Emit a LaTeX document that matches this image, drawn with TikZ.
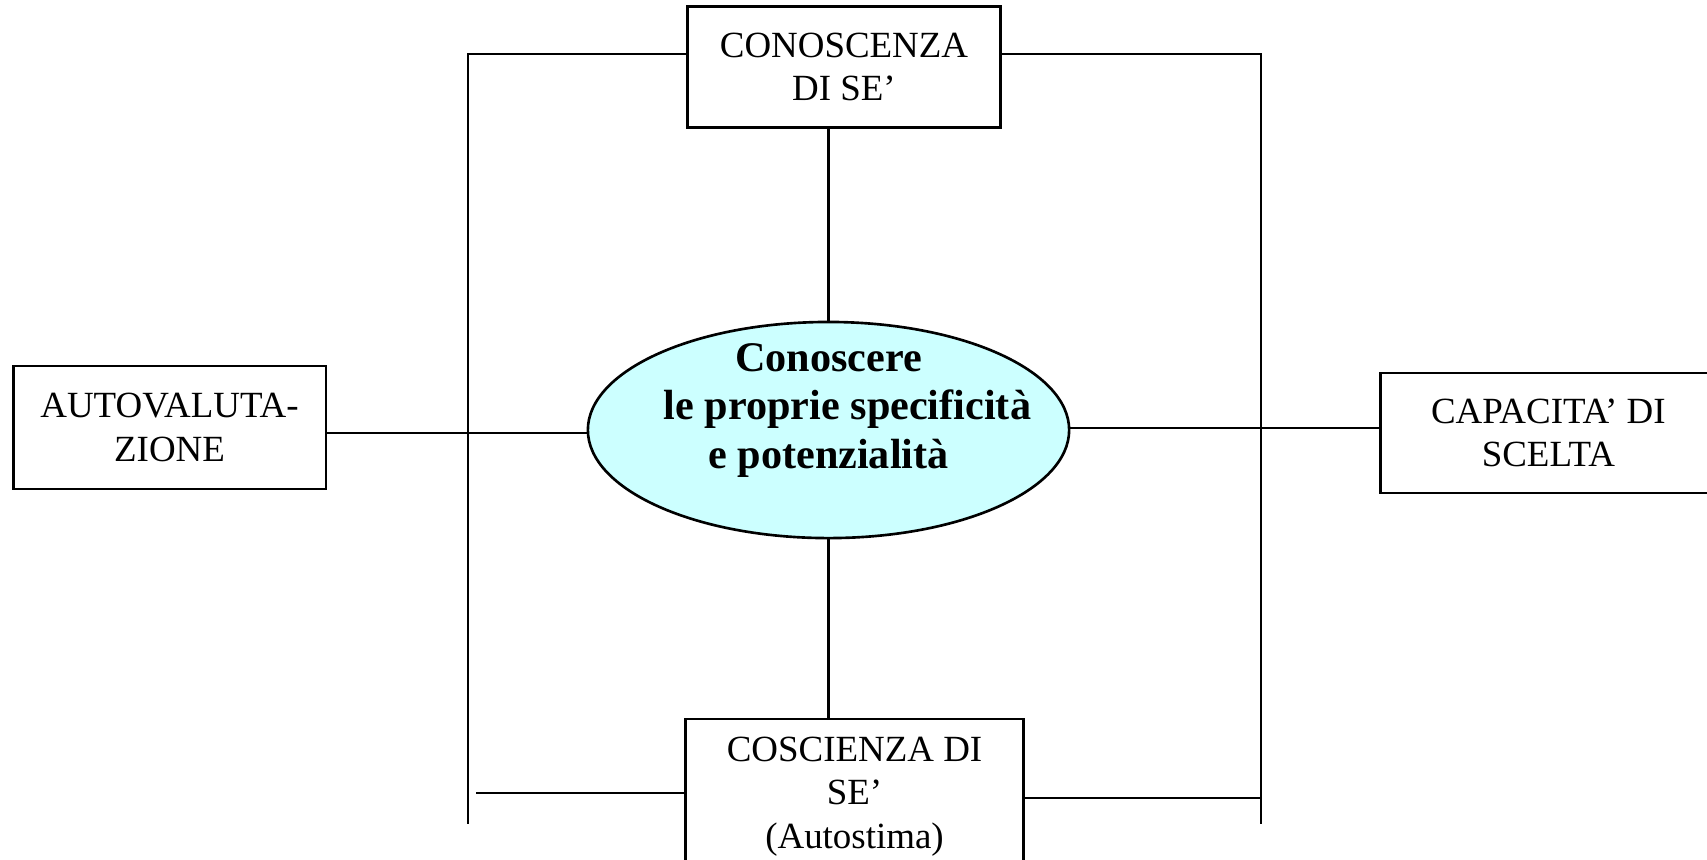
\documentclass[tikz,border=0pt]{standalone}
\usepackage{fontspec}
\setmainfont{Liberation Serif}
\usetikzlibrary{shapes,positioning,calc}
\usepackage{xcolor}
\definecolor{cielo}{HTML}{CCFFFF}

\begin{document}
\begin{tikzpicture}[x=0.01cm, y=-0.01cm]

    \tikzstyle{obj}=[draw, rectangle, line width=0.75pt, inner sep=0pt, align=center, font=\fontsize{10.5}{12.4}\selectfont];
    \tikzstyle{goal}=[draw, ellipse, line width=0.75pt, fill=cielo, minimum width=4.81cm, minimum height=2.16cm, inner xsep=-0.4cm, inner ysep=-0.4cm, align=center, font=\bfseries\fontsize{12}{13.7}\selectfont];

    \useasboundingbox (0,0) rectangle (1707,859);

    \begin{scope}[line width=0.65pt]
      \node (conoscere) at (828.5,430) [goal]{Conoscere\\ \hspace*{0.9em}le proprie specificità\\ e potenzialità\\ \mbox{}};

      \node (conoscenza) [above=1.917cm of conoscere, xshift=0.155cm, obj, minimum width=3.125cm, minimum height=1.21cm]{CONOSCENZA\\ DI SE’};
      \node (coscienza) [below=1.783cm of conoscere, xshift=0.26cm, obj, minimum width=3.375cm, minimum height=1.55cm]{COSCIENZA DI\\ SE’\\ (Autostima)};
      \node (autovalutazione) [left=2.592cm of conoscere, yshift=0.025cm, obj, minimum width=3.125cm, minimum height=1.23cm]{AUTOVALUTA-\\ ZIONE};
      \node (capacita) [right=3.088cm of conoscere, yshift=-0.03cm, obj, minimum width=3.35cm, minimum height=1.2cm]{CAPACITA’ DI\\ SCELTA};

      % frame round the centre
      \coordinate (tl) at (468,54);
      \coordinate (tr) at (1261,54);
      \coordinate (bl) at (468,824);
      \coordinate (br) at (1261,824);
      \coordinate (bll) at (476,793);
      \coordinate (brr) at (1261,798);
      \coordinate (lw) at ([yshift=-0.033cm]conoscere.west);
      \coordinate (re) at ([yshift=0.022cm]conoscere.east);

      \draw (conoscenza.west |- tl) -- (tl) -- (bl);
      \draw (conoscenza.east |- tr) -- (tr) -- (br);
      \draw (coscienza.west |- bll) -- (bll);
      \draw (coscienza.east |- brr) -- (brr);

      \draw (conoscere.north) -- (conoscere.north |- conoscenza.south);
      \draw (conoscere.south) -- (conoscere.south |- coscienza.north);
      \draw (lw) -- (autovalutazione.east |- lw);
      \draw (re) -- (capacita.west |- re);

    \end{scope}
\end{tikzpicture}
\end{document}
